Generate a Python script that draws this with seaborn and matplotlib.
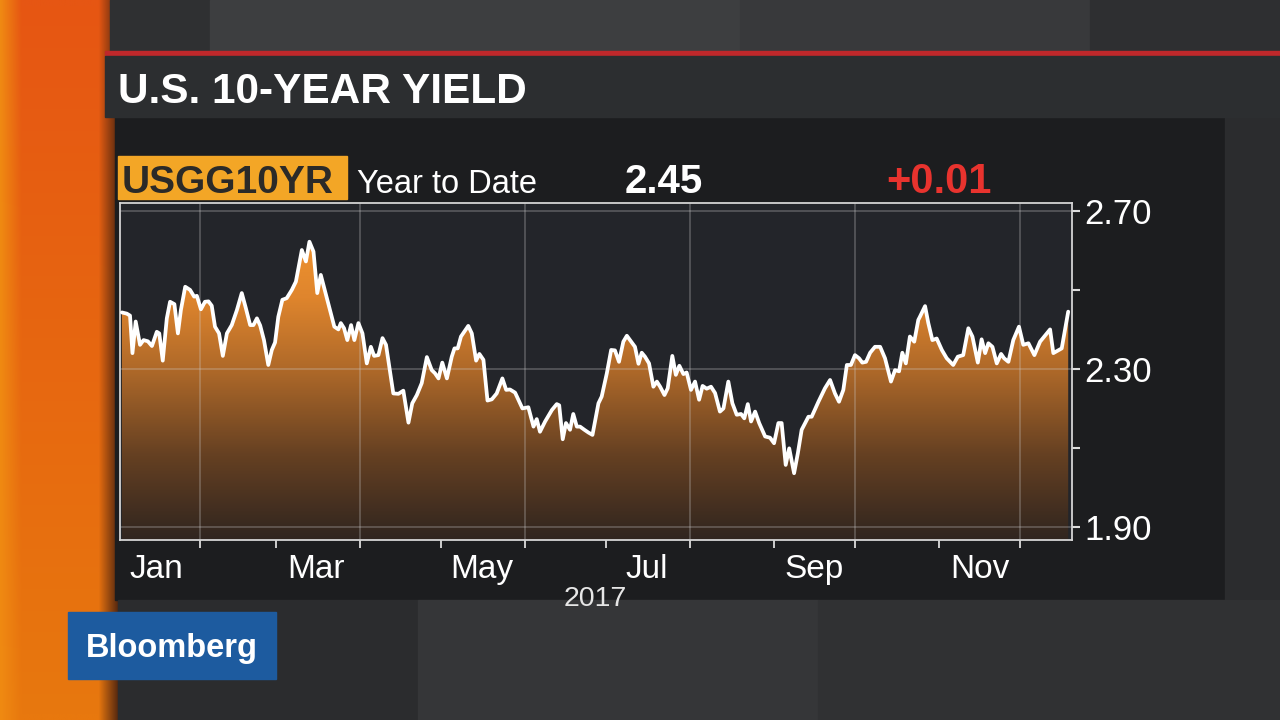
import numpy as np
import pandas as pd
import matplotlib
matplotlib.use("Agg")
import matplotlib.pyplot as plt
import matplotlib.dates as mdates
from matplotlib.ticker import NullFormatter
from matplotlib.colors import LinearSegmentedColormap, to_rgb
from matplotlib.patches import Rectangle
import seaborn as sns

# ------------------------------------------
# data: USGG10YR, year to date 2017 (read off the screen grab)
# day offset from Jan 1, 2017 and yield in %
# ------------------------------------------
YEAR_START = "2017-01-01"

days = [
    2.1, 3.9, 5.1, 6.0, 7.2, 8.8, 10.1, 11.7, 13.2, 15.0, 15.9, 17.2, 18.7, 19.9,
    21.5, 22.8, 23.9, 25.5, 27.3, 28.8, 29.8, 31.3, 32.8, 34.1, 35.3, 36.5, 38.0,
    39.4, 40.9, 42.7, 44.6, 46.4, 47.9, 49.5, 50.7, 52.0, 53.2, 54.6, 56.2, 57.5,
    58.7, 59.9, 61.4, 63.0, 64.9, 66.4, 68.6, 70.1, 71.4, 72.9, 74.3, 75.6, 77.2,
    79.0, 80.6, 82.1, 83.0, 84.2, 85.4, 86.8, 88.0, 89.5, 91.0, 92.6, 94.1, 95.3,
    96.9, 98.4, 99.7, 102.4, 104.3, 106.1, 108.0, 109.4, 111.1, 112.9, 114.8, 116.6,
    117.8, 119.1, 120.5, 122.2, 124.0, 125.0, 126.2, 127.4, 130.1, 131.4, 133.0,
    134.2, 135.7, 137.2, 138.8, 140.6, 142.7, 144.1, 145.5, 147.4, 148.6, 150.1,
    152.3, 154.2, 155.4, 156.6, 158.5, 161.0, 162.8, 163.7, 165.0, 166.2, 167.7,
    168.9, 170.2, 171.4, 173.0, 174.5, 176.0,
    178.2, 179.4, 181.3, 182.9, 184.3, 185.8, 187.4, 188.7, 190.3, 191.7, 193.0,
    194.2, 195.4, 196.9, 198.5, 199.8, 201.0, 202.6, 203.8, 205.5, 206.8, 208.1,
    209.6, 210.8, 212.4, 213.9, 215.4, 216.7, 218.2, 219.8, 221.3, 223.1, 224.4,
    226.2, 227.7, 229.3, 230.9, 232.1, 233.4, 234.6, 236.1, 237.6,
    239.8, 241.6, 243.1, 244.7, 245.9, 247.4, 248.7, 250.5, 251.9, 253.3, 255.8,
    257.0, 259.5, 261.9, 263.8, 265.6, 267.1, 268.7, 270.0, 271.5, 273.0, 274.5,
    275.7, 277.1, 278.6, 280.4, 282.3, 284.1, 286.3, 287.8, 289.3, 290.5, 291.8,
    293.3, 294.9, 296.4,
    297.0, 298.9, 300.1, 301.6, 303.2, 305.1, 306.9, 309.3, 311.0, 313.0, 314.9,
    316.4, 318.4, 319.8, 321.1, 322.3, 323.8, 325.4, 327.0, 328.1, 329.7, 331.5,
    333.6, 335.2, 337.1, 339.3, 341.4, 343.2, 345.1, 346.3, 349.4, 351.8,
]

yields = [
    2.443, 2.44, 2.435, 2.340, 2.42, 2.361, 2.373, 2.37, 2.358, 2.394, 2.39, 2.321,
    2.428, 2.470, 2.464, 2.390, 2.449, 2.508, 2.50, 2.483, 2.485, 2.451, 2.470,
    2.471, 2.46, 2.407, 2.39, 2.333, 2.39, 2.411, 2.449, 2.492, 2.454, 2.411, 2.411,
    2.428, 2.41, 2.373, 2.310, 2.348,
    2.367, 2.432, 2.475, 2.479, 2.50, 2.521, 2.601, 2.572, 2.622, 2.597, 2.492,
    2.538, 2.496, 2.449, 2.407, 2.40, 2.416, 2.403, 2.373, 2.411, 2.373, 2.416,
    2.39, 2.314, 2.356, 2.333, 2.335, 2.378, 2.361, 2.238, 2.237, 2.245, 2.164,
    2.213, 2.234, 2.264, 2.330, 2.297,
    2.289, 2.276, 2.316, 2.276, 2.331, 2.352, 2.352, 2.382, 2.409, 2.39, 2.321,
    2.338, 2.323, 2.220, 2.223, 2.238, 2.276, 2.247, 2.248, 2.240, 2.222, 2.20,
    2.203, 2.154, 2.173, 2.141, 2.167, 2.196, 2.211, 2.208, 2.122, 2.163, 2.146,
    2.186, 2.154, 2.154, 2.146, 2.139, 2.133,
    2.213, 2.230, 2.289, 2.348, 2.347, 2.318, 2.369, 2.384, 2.369, 2.356, 2.313,
    2.341, 2.331, 2.314, 2.255, 2.268, 2.255, 2.234, 2.251, 2.333, 2.285, 2.308,
    2.287, 2.291, 2.247, 2.268, 2.222, 2.257, 2.25, 2.255, 2.239, 2.192, 2.20,
    2.268, 2.213, 2.184, 2.186, 2.175, 2.211, 2.167, 2.192, 2.163,
    2.129, 2.126, 2.112, 2.163, 2.163, 2.057, 2.099, 2.036, 2.087, 2.146, 2.179,
    2.179, 2.217, 2.251, 2.272, 2.238, 2.217, 2.247, 2.31, 2.31, 2.335, 2.327,
    2.316, 2.318, 2.341, 2.356, 2.356, 2.327, 2.268, 2.297, 2.294, 2.341, 2.314,
    2.382, 2.369, 2.424,
    2.432, 2.459, 2.416, 2.373, 2.377, 2.348, 2.327, 2.31, 2.331, 2.335, 2.403,
    2.382, 2.316, 2.375, 2.34, 2.365, 2.356, 2.314, 2.338, 2.327, 2.318, 2.373,
    2.407, 2.361, 2.365, 2.335, 2.369, 2.384, 2.40, 2.34, 2.352, 2.445,
]

TITLE = "U.S. 10-YEAR YIELD"
TICKER = "USGG10YR"
PERIOD = "Year to Date"
LAST_LABEL = "2.45"
CHANGE_LABEL = "+0.01"
YEAR_LABEL = "2017"

y_ticks = [1.90, 2.10, 2.30, 2.50, 2.70]
y_tick_labels = ["1.90", "", "2.30", "", "2.70"]
y_grid = [1.90, 2.30, 2.70]
label_months = [1, 3, 5, 7, 9, 11]
grid_months = [2, 4, 6, 8, 10, 12]

# ==========================================
# figure setup
# ==========================================
sns.set_theme(style="dark")
plt.rcParams["font.family"] = ["Liberation Sans", "DejaVu Sans"]

W, H = 1280, 720


def fx(x):
    return x / W


def fy(y):
    return 1 - y / H


fig = plt.figure(figsize=(12.8, 7.2), dpi=100)
fig.patch.set_facecolor("#2a2b2d")

# backdrop (studio wall, orange stripe, title bar) in pixel coords
bg = fig.add_axes([0, 0, 1, 1])
bg.set_xlim(0, W)
bg.set_ylim(H, 0)
bg.axis("off")

# orange stripe on the left, redder at top, more orange at bottom
cols = np.linspace(0, 1, 120)
rows = np.linspace(0, 1, 60)
edge = np.array(to_rgb("#f08a12"))
mid_top = np.array(to_rgb("#e65613"))
mid_bot = np.array(to_rgb("#e8780e"))
shade = np.array(to_rgb("#5a2a10"))
stripe = np.zeros((len(rows), len(cols), 3))
for i, r in enumerate(rows):
    mid = mid_top * (1 - r) + mid_bot * r
    for j, c in enumerate(cols):
        if c < 0.18:
            t = c / 0.18
            stripe[i, j] = edge * (1 - t) + mid * t
        elif c < 0.84:
            stripe[i, j] = mid
        else:
            t = (c - 0.84) / 0.16
            stripe[i, j] = mid * (1 - t) + shade * t
bg.imshow(stripe, extent=[0, 118, H, 0], aspect="auto", zorder=1)

# studio wall pieces
bg.add_patch(Rectangle((110, 0), 100, 52, color="#2f3032", zorder=2))
bg.add_patch(Rectangle((210, 0), 530, 52, color="#3d3e40", zorder=2))
bg.add_patch(Rectangle((740, 0), 350, 52, color="#38393b", zorder=2))
bg.add_patch(Rectangle((1090, 0), 190, 52, color="#2e2f31", zorder=2))
bg.add_patch(Rectangle((105, 51), 1175, 5, color="#c0282b", zorder=3))
bg.add_patch(Rectangle((105, 56), 1175, 61, color="#2c2e30", zorder=3))
bg.add_patch(Rectangle((115, 117), 1110, 483, color="#1c1d1f", zorder=2))
bg.add_patch(Rectangle((1225, 117), 55, 483, color="#2b2c2e", zorder=2))
bg.add_patch(Rectangle((118, 600), 300, 120, color="#2b2c2e", zorder=2))
bg.add_patch(Rectangle((418, 600), 400, 120, color="#353638", zorder=2))
bg.add_patch(Rectangle((818, 600), 462, 120, color="#303133", zorder=2))

# header chips
bg.add_patch(Rectangle((118, 156), 229, 43, color="#f3a626", zorder=4))
bg.add_patch(Rectangle((68, 612), 208, 67, color="#1d5b9f", zorder=4))

# ==========================================
# the chart
# ==========================================
ax = fig.add_axes([fx(120), fy(540), fx(1072) - fx(120), fy(203) - fy(540)])
ax.set_facecolor("#23252a")

start = pd.Timestamp(YEAR_START)
dates = start + pd.to_timedelta(days, unit="D")
x_lo = start + pd.Timedelta(days=1.4)
x_hi = start + pd.Timedelta(days=353.2)
y_lo, y_hi = 1.867, 2.72

sns.lineplot(x=dates, y=yields, ax=ax, color="white", linewidth=2.7, zorder=5)

# orange -> dark brown gradient under the line
poly = ax.fill_between(dates, yields, y_lo, color="none", linewidth=0)
clip = poly.get_paths()[0]
fill_cmap = LinearSegmentedColormap.from_list(
    "yield_fill",
    [(0.0, "#30251f"), (0.25, "#654022"), (0.5, "#ad6829"), (0.72, "#df852d"), (1.0, "#f99b30")],
)
grad = np.linspace(1, 0, 256).reshape(-1, 1)
img = ax.imshow(
    grad, cmap=fill_cmap, aspect="auto", origin="upper", zorder=2,
    extent=[mdates.date2num(x_lo), mdates.date2num(x_hi), y_lo, y_hi],
)
img.set_clip_path(clip, transform=ax.transData)

ax.grid(False)
for m in grid_months:
    ax.axvline(pd.Timestamp(2017, m, 1), color="#d0d0d0", alpha=0.33, lw=1.1, zorder=3)
for v in y_grid:
    ax.axhline(v, color="#d0d0d0", alpha=0.33, lw=1.1, zorder=3)

ax.set_xlim(x_lo, x_hi)
ax.set_ylim(y_lo, y_hi)

# x axis: ticks at month starts, labels mid-month
ax.xaxis.set_major_locator(mdates.MonthLocator())
ax.xaxis.set_major_formatter(NullFormatter())
ax.xaxis.set_minor_locator(mdates.MonthLocator(bymonth=label_months, bymonthday=16))
ax.xaxis.set_minor_formatter(mdates.DateFormatter("%b"))
ax.tick_params(axis="x", which="major", bottom=True, direction="out", length=6,
               width=1.3, color="#dcdcdc")
ax.tick_params(axis="x", which="minor", bottom=True, length=0, pad=10,
               labelsize=24, labelcolor="white")

# y axis on the right
ax.yaxis.tick_right()
ax.set_yticks(y_ticks)
ax.set_yticklabels(y_tick_labels)
ax.tick_params(axis="y", left=False, right=True, direction="out", length=6, width=1.5,
               color="#dcdcdc", labelsize=25, labelcolor="white", pad=3)

ax.set_xlabel("")
ax.set_ylabel("")
for s in ax.spines.values():
    s.set_visible(True)
    s.set_color("#d4d4d4")
    s.set_linewidth(1.3)

# ==========================================
# text
# ==========================================
fig.text(fx(118), fy(103), TITLE, color="white", fontsize=30.5, weight="bold", va="baseline")
fig.text(fx(122), fy(193), TICKER, color="#2b2a28", fontsize=28, weight="bold", va="baseline")
fig.text(fx(357), fy(193), PERIOD, color="white", fontsize=23.5, va="baseline")
fig.text(fx(625), fy(193), LAST_LABEL, color="white", fontsize=29, weight="bold", va="baseline")
fig.text(fx(886), fy(193), CHANGE_LABEL, color="#e8332e", fontsize=30, weight="bold", va="baseline")
fig.text(fx(595), fy(606), YEAR_LABEL, color="#e6e6e6", fontsize=20.5, ha="center", va="baseline")
fig.text(fx(172), fy(657), "Bloomberg", color="white", fontsize=23.5, weight="bold",
         ha="center", va="baseline")

fig.savefig("out.png", dpi=100, facecolor=fig.get_facecolor())
